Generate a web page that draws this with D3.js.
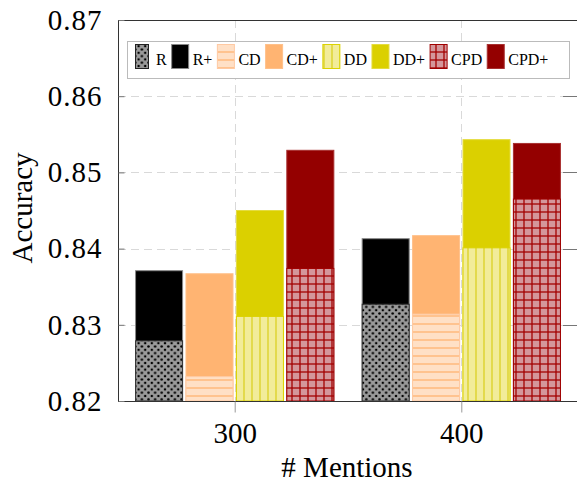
<!DOCTYPE html>
<html>
<head>
<meta charset="utf-8">
<script src="https://cdn.jsdelivr.net/npm/d3@7"></script>
<style>
  html, body { margin: 0; padding: 0; background: #fff; }
  svg { display: block; }
  text { font-family: "Liberation Serif", "Times New Roman", serif; fill: #000; }
</style>
</head>
<body>
<script>
// Accuracy by number of mentions, base model vs. "+" variant for each method
const mentions = [300, 400];
const R        = [0.8279, 0.8327];
const R_plus   = [0.8371, 0.8413];
const CD       = [0.8232, 0.8314];
const CD_plus  = [0.8367, 0.8417];
const DD       = [0.8311, 0.8401];
const DD_plus  = [0.8450, 0.8543];
const CPD      = [0.8374, 0.8465];
const CPD_plus = [0.8529, 0.8538];
const yTicks   = [0.82, 0.83, 0.84, 0.85, 0.86, 0.87];
const legendLabels = ["R", "R+", "CD", "CD+", "DD", "DD+", "CPD", "CPD+"];

const W = 577, H = 486;
const m = { left: 118, top: 20, right: 578, bottom: 401 };

const svg = d3.select("body").append("svg")
  .attr("width", W).attr("height", H)
  .attr("viewBox", `0 0 ${W} ${H}`);

const defs = svg.append("defs");

// fill patterns
function dotsPattern(id, s) {
  const p = defs.append("pattern").attr("id", id)
    .attr("patternUnits", "userSpaceOnUse").attr("width", s).attr("height", s);
  p.append("rect").attr("width", s).attr("height", s).attr("fill", "#9a9a9a");
  [[0, 0], [s, 0], [0, s], [s, s], [s / 2, s / 2]].forEach(([cx, cy]) =>
    p.append("circle").attr("cx", cx).attr("cy", cy).attr("r", 1.25).attr("fill", "#000"));
}
function linesPattern(id, s, bg, fg, horiz, vert, sw) {
  const p = defs.append("pattern").attr("id", id)
    .attr("patternUnits", "userSpaceOnUse").attr("width", s).attr("height", s);
  p.append("rect").attr("width", s).attr("height", s).attr("fill", bg);
  if (horiz) p.append("line").attr("x1", 0).attr("x2", s).attr("y1", s / 2).attr("y2", s / 2)
    .attr("stroke", fg).attr("stroke-width", sw);
  if (vert) p.append("line").attr("y1", 0).attr("y2", s).attr("x1", s / 2).attr("x2", s / 2)
    .attr("stroke", fg).attr("stroke-width", sw);
}
dotsPattern("pDots", 6.6);
linesPattern("pH", 8, "#ffe0c6", "#ffaf6a", true, false, 1.2);
linesPattern("pV", 8, "#f2ec9a", "#e0d63a", false, true, 1.6);
linesPattern("pG", 8, "#d4979b", "#a30000", true, true, 1.3);

const styles = {
  "R":    { fill: "url(#pDots)", stroke: "#333" },
  "R+":   { fill: "#000",        stroke: "#888" },
  "CD":   { fill: "url(#pH)",    stroke: "#ffc9a2" },
  "CD+":  { fill: "#ffb472",     stroke: "#ffc08a" },
  "DD":   { fill: "url(#pV)",    stroke: "#dcd200" },
  "DD+":  { fill: "#dbd000",     stroke: "#e4dc40" },
  "CPD":  { fill: "url(#pG)",    stroke: "#a00000" },
  "CPD+": { fill: "#940000",     stroke: "#a83030" }
};

const x = d3.scaleLinear().domain([248.5, 451.5]).range([m.left, m.right]);
const y = d3.scaleLinear().domain([0.82, 0.87]).range([m.bottom, m.top]);

// grid
const grid = svg.append("g").attr("stroke", "#d9d9d9").attr("stroke-width", 1)
  .attr("stroke-dasharray", "8,5");
grid.selectAll("line.h").data(yTicks.slice(1, -1)).join("line")
  .attr("x1", m.left).attr("x2", m.right)
  .attr("y1", d => Math.round(y(d)) + 0.5).attr("y2", d => Math.round(y(d)) + 0.5);
grid.selectAll("line.v").data(mentions).join("line")
  .attr("y1", m.top).attr("y2", m.bottom)
  .attr("x1", d => Math.round(x(d)) + 0.5).attr("x2", d => Math.round(x(d)) + 0.5);

// bars: the "+" bar is drawn behind its base bar
const pairs = [
  ["R+", R_plus, "R", R],
  ["CD+", CD_plus, "CD", CD],
  ["DD+", DD_plus, "DD", DD],
  ["CPD+", CPD_plus, "CPD", CPD]
];
const stride = 22.25, bw = 20.75;
const bwPx = x(bw) - x(0);
const bars = svg.append("g");
pairs.forEach(([pn, pv, bn, bv], i) => {
  const off = (i - 1.5) * stride;
  [[pn, pv], [bn, bv]].forEach(([name, vals]) => {
    bars.selectAll(null).data(mentions.map((g, k) => ({ g, v: vals[k] }))).join("rect")
      .attr("x", d => x(d.g + off) - bwPx / 2)
      .attr("width", bwPx)
      .attr("y", d => y(d.v))
      .attr("height", d => y(0.82) - y(d.v))
      .attr("fill", styles[name].fill)
      .attr("stroke", styles[name].stroke)
      .attr("stroke-width", 1);
  });
});

// axes frame
const axisCol = "#333";
svg.append("line").attr("x1", m.left + 0.5).attr("x2", m.left + 0.5)
  .attr("y1", m.top).attr("y2", m.bottom + 0.5).attr("stroke", axisCol);
svg.append("line").attr("x1", m.left).attr("x2", m.right)
  .attr("y1", m.top + 0.5).attr("y2", m.top + 0.5).attr("stroke", axisCol);
svg.append("line").attr("x1", m.left).attr("x2", m.right)
  .attr("y1", m.bottom + 0.5).attr("y2", m.bottom + 0.5).attr("stroke", axisCol);

// y axis ticks and labels
const yAxis = d3.axisLeft(y).tickValues(yTicks).tickFormat(d3.format(".2f")).tickSize(-6).tickPadding(16);
const gy = svg.append("g").attr("transform", `translate(${m.left + 0.5},0)`).call(yAxis);
gy.select(".domain").remove();
gy.selectAll(".tick line").attr("stroke", "#777");
gy.selectAll(".tick text").attr("font-size", 29).attr("font-family", "Liberation Serif")
  .attr("fill", "#000").attr("letter-spacing", 1);

// right-side ticks
svg.append("g").selectAll("line").data(yTicks.slice(1, -1)).join("line")
  .attr("x1", 563).attr("x2", m.right)
  .attr("y1", d => Math.round(y(d)) + 0.5).attr("y2", d => Math.round(y(d)) + 0.5)
  .attr("stroke", "#777");

// x axis ticks and labels
const xAxis = d3.axisBottom(x).tickValues(mentions).tickFormat(d3.format("d")).tickSize(11).tickPadding(10);
const gx = svg.append("g").attr("transform", `translate(0,${m.bottom + 0.5})`).call(xAxis);
gx.select(".domain").remove();
gx.selectAll(".tick line").attr("stroke", "#999");
gx.selectAll(".tick text").attr("font-size", 29).attr("font-family", "Liberation Serif").attr("fill", "#000");

// axis titles
svg.append("text").attr("x", 347).attr("y", 477).attr("text-anchor", "middle")
  .attr("font-size", 29).text("# Mentions");
svg.append("text").attr("transform", "translate(32,208) rotate(-90)")
  .attr("text-anchor", "middle").attr("font-size", 29).text("Accuracy");

// legend
const lg = svg.append("g");
lg.append("rect").attr("x", 127.5).attr("y", 41.5).attr("width", 442).attr("height", 37)
  .attr("fill", "#fff").attr("stroke", "#bbb");
let cx = 135;
legendLabels.forEach((name, i) => {
  const sw = name === "R" ? 13 : 17;
  lg.append("rect").attr("x", cx + 0.5).attr("y", 44.5).attr("width", sw).attr("height", 24)
    .attr("fill", styles[name].fill).attr("stroke", name === "R" ? "#222" : styles[name].stroke);
  cx += sw + (name === "R" ? 8 : 4.5);
  const t = lg.append("text").attr("x", cx).attr("y", 64.5).attr("font-size", 16).text(name);
  cx += t.node().getComputedTextLength() + 4.5;
});
</script>
</body>
</html>
